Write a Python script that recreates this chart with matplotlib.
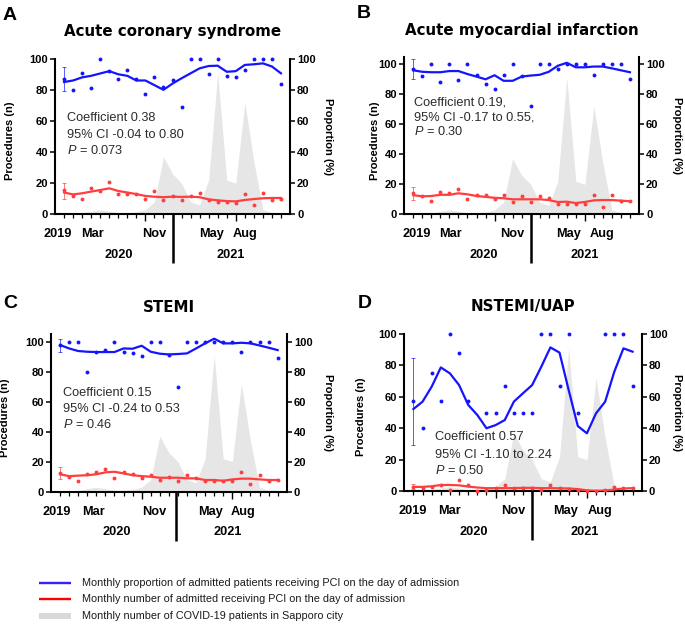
"""
PCI on the day of admission vs COVID-19 waves in Sapporo (4 panels).
Run with: python3 plot.py
"""

import numpy as np
import matplotlib.pyplot as plt
from matplotlib.lines import Line2D

plt.rcParams["font.family"] = ["Liberation Sans", "DejaVu Sans"]
plt.rcParams["mathtext.fontset"] = "custom"
plt.rcParams["mathtext.rm"] = "Liberation Sans"
plt.rcParams["mathtext.it"] = "Liberation Sans:italic"

nan = np.nan

# ----- Data (monthly, Dec 2019 .. Dec 2021) -----
months = np.arange(25)
covid = [0, 0.5, 1, 2, 3, 2, 1, 1, 1.5, 3, 8, 37, 26, 20, 8, 6,
         22, 91, 22, 20, 72, 34, 3, 1, 1]

# A: acute coronary syndrome
acs_prop = [87, 80, 91, 81, 100, 92, 87, 93, 87, 77, 88, 82, 86, 69, 100, 100,
            90, 100, 89, 88, 93, 100, 100, 100, 83.5]
acs_prop_fit = [85, 86, 88, 89, 90.5, 92, 90, 89, 86, 86, 83, 80, 84, 87.4, 90.6,
                93.8, 95.3, 95.5, 91.6, 92, 96, 96.4, 97, 95, 90.6]
acs_n = [15.6, 12, 10, 17, 15, 21, 13, 13, 13, 10, 15, 9, 12, 9, 12, 13.5,
         9, 8, 8, 7, 13, 6, 14, 9, 10]
acs_n_fit = [14, 12.8, 13.5, 14.6, 15.6, 16.7, 15, 14, 13, 11.8, 11.3, 11, 11.3,
             11.2, 11.3, 11, 9.6, 9, 8.5, 8.3, 9.2, 9.8, 10.3, 10.5, 10.5]
acs_prop_ci = (79.4, 94.4)
acs_n_ci = (10, 20)

# B: acute myocardial infarction
ami_prop = [96.7, 92, 100, 88, 100, 89.6, 100, 92.7, 86.7, 83.3, 93, 100, 92, 72,
            100, 100, 97, 100, 100, 100, 93, 100, 100, 100, 90]
ami_prop_fit = [96, 95, 94.7, 94.7, 95.5, 95.5, 93.5, 91.8, 90, 92.7, 89, 89, 91.8,
                92.5, 93, 95, 99, 101, 98, 98, 98.5, 98.5, 97.3, 96, 94.7]
ami_n = [14, 12, 9, 15, 14, 17, 10, 13, 13, 10, 13, 8, 12, 8, 12, 11,
         7, 7, 7, 7, 13, 5, 13, 9, 9]
ami_n_fit = [12.7, 12, 12.2, 13, 13, 14, 13.3, 12.2, 11.6, 11, 10.7, 10, 10, 10,
             10, 9.5, 8.2, 8.4, 7.5, 8.2, 9.3, 9.5, 9.5, 9.1, 8.7]
ami_prop_ci = (90, 103.3)
ami_n_ci = (9.5, 18.4)

# C: STEMI
stemi_prop = [97.8, 100, 100, 80, 93.3, 94.2, 100, 93.3, 92.7, 90.4, 100, 100, 91,
              70, 100, 100, 100, 100, 100, 100, 93.3, 100, 100, 100, 89]
stemi_prop_fit = [97.8, 95.5, 93.8, 93.3, 93.1, 93.1, 93.1, 95.5, 95.3, 97.3, 93.3,
                  92, 91.5, 91.8, 92.2, 95.5, 98.9, 102, 98.9, 98.9, 99.3, 98.9,
                  97.5, 96, 94.4]
stemi_n = [12.7, 10, 7, 12, 13, 15, 9, 13, 12, 9, 11, 8, 10, 7, 11, 9,
           7, 7, 7, 7, 13, 5, 11, 7, 8]
stemi_n_fit = [11.6, 10.4, 10.7, 11, 11.6, 12.9, 13.3, 12.2, 11, 10.4, 10, 9.3,
               9.3, 9.3, 8.9, 8.9, 7.8, 7.8, 7.3, 8.2, 8.7, 8.7, 8.2, 7.8, 7.8]
stemi_prop_ci = (93.3, 101.8)
stemi_n_ci = (8.2, 16.7)

# D: NSTEMI/UAP
nstemi_prop = [57, 40, 75, 57, 100, 87.5, 57, nan, 50, 50, 66.7, 50, 50, 50,
               100, 100, 66.7, 100, 50, nan, nan, 100, 100, 100, 66.7]
nstemi_prop_fit = [52.2, 56.9, 66.4, 78.6, 74.8, 67.4, 54.8, 48.4, 40, 42, 45.2,
                   56.9, 62.2, 67.4, 79, 91.3, 88, 64.3, 41.4, 36.8, 49.5, 56.9,
                   75.9, 90.7, 88.6]
nstemi_n = [2.5, 2, 3, 4, 1, 7, 4, 0, 1, 2, 4, 2, 2, 2, 1, 4,
            2, 1.5, 1, 0, 0, 1, 3, 2, 2]
nstemi_n_fit = [2.8, 2.8, 3.2, 4, 4, 3.8, 3, 2.4, 2, 2, 2, 2, 2.2, 2.2, 2, 2,
                1.9, 1.8, 1.4, 0.6, 0.3, 0.5, 1.1, 1.8, 2]
nstemi_prop_ci = (29.4, 84.4)
nstemi_n_ci = (1.3, 4.4)

titles = ["Acute coronary syndrome", "Acute myocardial infarction", "STEMI", "NSTEMI/UAP"]
letters = ["A", "B", "C", "D"]
stats = [
    ["Coefficient 0.38", "95% CI -0.04 to 0.80", "$\\mathit{P}$ = 0.073"],
    ["Coefficient 0.19,", "95% CI -0.17 to 0.55,", "$\\mathit{P}$ = 0.30"],
    ["Coefficient 0.15", "95% CI -0.24 to 0.53", "$\\mathit{P}$ = 0.46"],
    ["Coefficient 0.57", "95% CI -1.10 to 2.24", "$\\mathit{P}$ = 0.50"],
]
month_labels = ["2019", "Mar", "Nov", "May", "Aug"]
year_labels = ["2020", "2021"]

# ----- Layout (per panel) -----
W, H = 685, 626
COLOR_BLUE = "#1414ff"
COLOR_RED = "#ff3f3f"
COLOR_GRAY = "#e6e6e6"

panels = [
    dict(prop=acs_prop, prop_fit=acs_prop_fit, n=acs_n, n_fit=acs_n_fit,
         prop_ci=acs_prop_ci, n_ci=acs_n_ci,
         rect=[55, 214.3, 235, 155.6], ytop=100,
         mpos=[-0.7, 3.15, 9.97, 16.3, 20.0], ypos=[6.1, 18.4], div=12.0,
         lab=(-0.17, 1.163), txt=(0.05, [0.617, 0.509, 0.408]),
         title=(172.5, 31.7), letter=(3, 15)),
    dict(prop=ami_prop, prop_fit=ami_prop_fit, n=ami_n, n_fit=ami_n_fit,
         prop_ci=ami_prop_ci, n_ci=ami_n_ci,
         rect=[404.3, 214.3, 234.7, 157.5], ytop=105,
         mpos=[0.4, 4.1, 11.0, 17.2, 20.9], ypos=[7.8, 19.0], div=13.0,
         lab=(-0.105, 1.16), txt=(0.041, [0.709, 0.616, 0.524]),
         title=(521.5, 30.7), letter=(357, 14)),
    dict(prop=stemi_prop, prop_fit=stemi_prop_fit, n=stemi_n, n_fit=stemi_n_fit,
         prop_ci=stemi_prop_ci, n_ci=stemi_n_ci,
         rect=[51, 491.7, 235.7, 157.5], ytop=105,
         mpos=[-0.37, 3.66, 10.4, 16.6, 20.2], ypos=[6.2, 18.5], div=12.75,
         lab=(-0.174, 1.177), txt=(0.052, [0.629, 0.523, 0.424]),
         title=(169, 307.3), letter=(3, 304)),
    dict(prop=nstemi_prop, prop_fit=nstemi_prop_fit, n=nstemi_n, n_fit=nstemi_n_fit,
         prop_ci=nstemi_prop_ci, n_ci=nstemi_n_ci,
         rect=[404.3, 491.3, 237.4, 157.6], ytop=100,
         mpos=[-0.07, 3.95, 10.95, 16.7, 20.45], ypos=[6.6, 18.8], div=13.0,
         lab=(-0.163, 1.147), txt=(0.129, [0.346, 0.230, 0.135]),
         title=(523, 306.7), letter=(358, 304)),
]

fig = plt.figure(figsize=(W / 100, H / 100), dpi=100)

for p, title, letter, lines in zip(panels, titles, letters, stats):
    x0, ybot, w, h = p["rect"]
    ax = fig.add_axes([x0 / W, 1 - ybot / H, w / W, h / H])
    ax2 = ax.twinx()

    # COVID-19 cases as grey background area
    ax.fill_between(months, 0, covid, color=COLOR_GRAY, linewidth=0, zorder=0)

    # monthly number of procedures (left axis)
    ax.plot(months, p["n_fit"], color=COLOR_RED, linewidth=1.6, zorder=3)
    ax.plot(months, p["n"], "o", color=COLOR_RED, markersize=2.8,
            markeredgewidth=0, zorder=4, clip_on=False)
    lo, hi = p["n_ci"]
    ax.errorbar([months[0]], [p["n"][0]], yerr=[[p["n"][0] - lo], [hi - p["n"][0]]],
                fmt="none", ecolor=COLOR_RED, alpha=0.7, elinewidth=0.7,
                capsize=1.6, capthick=0.7, zorder=4)

    # monthly proportion (right axis)
    ax2.plot(months, p["prop_fit"], color=COLOR_BLUE, linewidth=1.6, zorder=3,
             clip_on=False)
    ax2.plot(months, p["prop"], "o", color=COLOR_BLUE, markersize=2.8,
             markeredgewidth=0, zorder=4, clip_on=False)
    lo, hi = p["prop_ci"]
    ax2.errorbar([months[0]], [p["prop"][0]],
                 yerr=[[p["prop"][0] - lo], [hi - p["prop"][0]]],
                 fmt="none", ecolor=COLOR_BLUE, alpha=0.7, elinewidth=0.7,
                 capsize=1.6, capthick=0.7, zorder=4)

    for a in (ax, ax2):
        a.set_xlim(-1, 25)
        a.set_ylim(0, p["ytop"])
        a.set_yticks(np.arange(0, 101, 20))
        a.tick_params(axis="y", length=3.6, width=1.1, pad=1.5, labelsize=8)
        for lbl in a.get_yticklabels():
            lbl.set_fontweight("bold")
        for side in ("top", "left", "right", "bottom"):
            a.spines[side].set_linewidth(1.5)
    ax.spines["top"].set_visible(False)
    ax.spines["right"].set_visible(False)
    ax2.spines["top"].set_visible(False)
    ax2.spines["left"].set_visible(False)
    ax2.spines["bottom"].set_visible(False)

    ax.set_xticks([9, 19])
    ax.set_xticks(months, minor=True)
    ax.tick_params(axis="x", which="major", length=4.8, width=1.0, labelbottom=False)
    ax.tick_params(axis="x", which="minor", length=2.9, width=0.9)

    ax.set_ylabel("Procedures (n)", fontsize=8, fontweight="bold")
    ax.yaxis.set_label_coords(p["lab"][0], 0.47)
    ax2.set_ylabel("Proportion (%)", fontsize=8, fontweight="bold", rotation=270,
                   va="center")
    ax2.yaxis.set_label_coords(p["lab"][1], 0.5)

    # month / year labels under the axis
    xt = ax.get_xaxis_transform()
    for lbl, pos in zip(month_labels, p["mpos"]):
        ax.annotate(lbl, xy=(pos, 0), xycoords=xt, xytext=(0, -14.4),
                    textcoords="offset points", ha="center", va="center",
                    fontsize=9.2, fontweight="bold", annotation_clip=False)
    for lbl, pos in zip(year_labels, p["ypos"]):
        ax.annotate(lbl, xy=(pos, 0), xycoords=xt, xytext=(0, -29.3),
                    textcoords="offset points", ha="center", va="center",
                    fontsize=9.2, fontweight="bold", annotation_clip=False)
    ax.plot([p["div"], p["div"]], [0, -49 / h], transform=xt, clip_on=False,
            color="black", linewidth=1.8, solid_capstyle="butt")

    # regression summary
    tx, tys = p["txt"]
    for line, ty in zip(lines, tys):
        ax.text(tx, ty, line, transform=ax.transAxes, fontsize=9.2,
                color="#2b2b2b", ha="left", va="center", zorder=5)

    fig.text(p["title"][0] / W, 1 - p["title"][1] / H, title, ha="center",
             va="center", fontsize=10.8, fontweight="bold", family="DejaVu Sans")
    fig.text(p["letter"][0] / W, 1 - p["letter"][1] / H, letter, ha="left",
             va="center", fontsize=14, fontweight="bold")

# ----- Legend (drawn on the figure) -----
legend_items = [
    ("Monthly proportion of admitted patients receiving PCI on the day of admission",
     "#3a1eff", 1.7, 582.7),
    ("Monthly number of admitted receiving PCI on the day of admission",
     "#ff0000", 1.7, 598.5),
    ("Monthly number of COVID-19 patients in Sapporo city", "#d9d9d9", 4.3, 616.3),
]
for label, color, lw, y in legend_items:
    fig.add_artist(Line2D([39 / W, 71 / W], [1 - y / H, 1 - y / H],
                          transform=fig.transFigure, color=color, linewidth=lw,
                          solid_capstyle="butt"))
    fig.text(81.7 / W, 1 - y / H, label, ha="left", va="center", fontsize=7.8,
             color="#1a1a1a")

plt.savefig("out.png", dpi=100)
print("Saved out.png")
